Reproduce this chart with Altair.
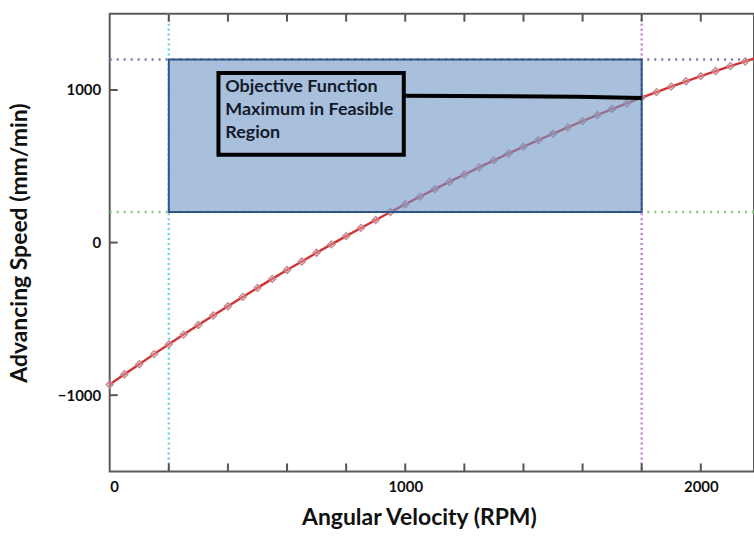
import altair as alt
import pandas as pd

# Curve (Angular Velocity RPM vs Advancing Speed mm/min)
rpm = [0, 50, 100, 150, 200, 250, 300, 350, 400, 450, 500, 550, 600, 650, 700,
       750, 800, 850, 900, 950, 1000, 1050, 1100, 1150, 1200, 1250, 1300, 1350,
       1400, 1450, 1500, 1550, 1600, 1650, 1700, 1750, 1800, 1850, 1900, 1950,
       2000, 2050, 2100, 2150, 2200]
speed = [-930, -863, -797, -731, -667, -603, -540, -478, -417, -356, -297, -238,
         -180, -124, -67, -12, 42, 96, 148, 200, 251, 301, 350, 399, 446, 493,
         539, 584, 628, 671, 713, 755, 796, 836, 875, 913, 950, 986, 1022, 1057,
         1091, 1124, 1156, 1187, 1218]

# Feasible region
region_x = [200, 1800]
region_y = [200, 1200]

# Constraint lines
h_lines = [1200, 200]
h_colors = ["#7b7aa6", "#86c986"]
v_lines = [200, 1800]
v_colors = ["#74d3dc", "#c185d6"]

# Annotation
note_box_x = [368, 995]
note_box_y = [575, 1111]
note_text = ["Objective Function", "Maximum in Feasible", "Region"]
note_anchor = [391, 1078]
leader_x = [995, 1585, 1800]
leader_y = [962, 956, 948]

x_ticks = [200, 400, 600, 800, 1000, 1200, 1400, 1600, 1800, 2000]
x_labels = [0, 1000, 2000]
y_ticks = [-1000, 0, 1000]

X_DOMAIN = [0, 2180]
Y_DOMAIN = [-1500, 1500]
W, H = 646, 459
FONT = "Lato"

xs = alt.Scale(domain=X_DOMAIN, nice=False, zero=False)
ys = alt.Scale(domain=Y_DOMAIN, nice=False, zero=False)

curve_df = pd.DataFrame({"rpm": rpm, "speed": speed})
hdf = pd.DataFrame({"y": h_lines, "c": h_colors})
vdf = pd.DataFrame({"x": v_lines, "c": v_colors})

x_axis = alt.Axis(values=x_labels, format="d", title="Angular Velocity (RPM)",
                  grid=False, domain=False, ticks=False, labelFont=FONT,
                  labelFontSize=15, labelFontWeight="bold", labelColor="#111",
                  labelPadding=8, titleFont=FONT, titleFontSize=23,
                  titleFontWeight="bold", titleColor="#111", titlePadding=12,
                  titleX=310)
y_axis = alt.Axis(values=y_ticks, format="d", title="Advancing Speed (mm/min)",
                  grid=False, domain=False, ticks=False, labelFont=FONT,
                  labelFontSize=15, labelFontWeight="bold", labelColor="#111",
                  labelPadding=9, titleFont=FONT, titleFontSize=23,
                  titleFontWeight="bold", titleColor="#111", titlePadding=26)

hl = alt.Chart(hdf).mark_rule(strokeDash=[2, 5], strokeWidth=2.5).encode(
    y=alt.Y("y:Q", scale=ys, axis=y_axis),
    color=alt.Color("c:N", scale=None),
)
vl = alt.Chart(vdf).mark_rule(strokeDash=[2, 3], strokeWidth=2.5).encode(
    x=alt.X("x:Q", scale=xs, axis=x_axis),
    color=alt.Color("c:N", scale=None),
)

line = alt.Chart(curve_df).mark_line(color="#d23434", strokeWidth=2.4).encode(
    x=alt.X("rpm:Q", scale=xs), y=alt.Y("speed:Q", scale=ys)
)
pts = alt.Chart(curve_df).mark_point(shape="diamond", filled=True, size=50,
                                      fill="#e8b4b8", fillOpacity=0.35,
                                      stroke="#c2868e", strokeWidth=1.3).encode(
    x=alt.X("rpm:Q", scale=xs), y=alt.Y("speed:Q", scale=ys)
)

region_df = pd.DataFrame({"x": [region_x[0]], "x2": [region_x[1]],
                          "y": [region_y[0]], "y2": [region_y[1]]})
region = alt.Chart(region_df).mark_rect(fill="#6e96c5", fillOpacity=0.6,
                                         stroke="#2f5686", strokeWidth=2).encode(
    x=alt.X("x:Q", scale=xs), x2="x2", y=alt.Y("y:Q", scale=ys), y2="y2"
)

leader_df = pd.DataFrame({"x": leader_x, "y": leader_y})
leader = alt.Chart(leader_df).mark_line(color="#000", strokeWidth=4).encode(
    x=alt.X("x:Q", scale=xs), y=alt.Y("y:Q", scale=ys)
)

box_df = pd.DataFrame({"x": [note_box_x[0]], "x2": [note_box_x[1]],
                       "y": [note_box_y[0]], "y2": [note_box_y[1]]})
box = alt.Chart(box_df).mark_rect(fillOpacity=0, stroke="#000", strokeWidth=4).encode(
    x=alt.X("x:Q", scale=xs), x2="x2", y=alt.Y("y:Q", scale=ys), y2="y2"
)

text_df = pd.DataFrame({"x": [note_anchor[0]], "y": [note_anchor[1]],
                        "t": ["\n".join(note_text)]})
text = alt.Chart(text_df).mark_text(align="left", baseline="top", font=FONT,
                                     fontSize=18, fontWeight="bold", color="#141a2c",
                                     lineBreak="\n", lineHeight=23).encode(
    x=alt.X("x:Q", scale=xs), y=alt.Y("y:Q", scale=ys), text="t:N"
)

xt_df = pd.DataFrame({"x": x_ticks})
yt_df = pd.DataFrame({"y": y_ticks})
tick_style = dict(color="#555", strokeWidth=2)
bottom_ticks = alt.Chart(xt_df).mark_rule(**tick_style).encode(
    x=alt.X("x:Q", scale=xs), y=alt.value(H - 8), y2=alt.value(H))
top_ticks = alt.Chart(xt_df).mark_rule(**tick_style).encode(
    x=alt.X("x:Q", scale=xs), y=alt.value(0), y2=alt.value(8))
left_ticks = alt.Chart(yt_df).mark_rule(**tick_style).encode(
    y=alt.Y("y:Q", scale=ys), x=alt.value(0), x2=alt.value(8))

chart = alt.layer(
    hl, vl, line, pts, region, leader, box, text,
    bottom_ticks, top_ticks, left_ticks,
).properties(
    width=W, height=H,
    autosize=alt.AutoSizeParams(type="none"),
    padding={"left": 110, "top": 13, "right": 0, "bottom": 66},
    background="#ffffff",
).configure_view(
    stroke="#5a5a5a", strokeWidth=2,
)

chart.save("out.html", embed_options={"renderer": "svg", "actions": False})
